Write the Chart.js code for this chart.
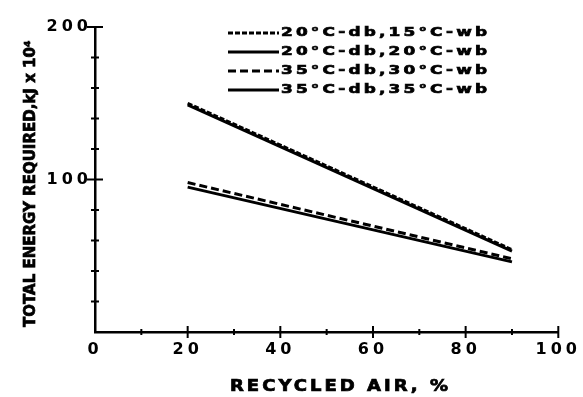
<!DOCTYPE html>
<html>
<head>
<meta charset="utf-8">
<script src="https://cdn.jsdelivr.net/npm/chart.js@4.4.0/dist/chart.umd.min.js"></script>
<style>
  html, body { margin: 0; padding: 0; background: #fff; }
  canvas { display: block; }
</style>
</head>
<body>
<canvas id="myChart" width="583" height="397"></canvas>
<script>
// x: recycled air in %, the lines run from 20 to 90
const recycledAir = [20, 90];
// y: total energy required, kJ x 10^4
const db20wb15 = [150, 54];
const db20wb20 = [149, 53];
const db35wb30 = [98, 48];
const db35wb35 = [95, 46];
const seriesLabels = ['20°C-db,15°C-wb', '20°C-db,20°C-wb', '35°C-db,30°C-wb', '35°C-db,35°C-wb'];
// only these ticks carry a number
const xTickLabels = [0, 20, 40, 60, 80, 100];
const yTickLabels = [100, 200];
const xTitle = 'RECYCLED AIR, %';
const yTitle = 'TOTAL ENERGY REQUIRED,kJ x 10⁴';

const FONT = 'DejaVu Sans';

function points(ys) {
    return recycledAir.map((x, i) => ({x: x, y: ys[i]}));
}

// the scan uses a very wide, heavy lettering: stretch a bit, spread the rest
function drawWide(ctx, text, x, y, width, stretch) {
    ctx.letterSpacing = '0px';
    let w = ctx.measureText(text).width * stretch;
    let sp = Math.max(0, (width - w) / (text.length - 1)) / stretch;
    ctx.letterSpacing = sp + 'px';
    ctx.save();
    ctx.translate(x, y);
    ctx.scale(stretch, 1);
    ctx.lineWidth = 0.7;
    ctx.setLineDash([]);
    ctx.fillText(text, 0, 0);
    ctx.strokeText(text, 0, 0);
    ctx.restore();
}

const paper = {
    id: 'paper',
    beforeDraw(chart) {
        const ctx = chart.ctx;
        ctx.save();
        ctx.fillStyle = '#fff';
        ctx.fillRect(0, 0, chart.width, chart.height);
        ctx.restore();
        // wide spacing for the tick labels
        ctx.letterSpacing = '4px';
    },
    afterDraw(chart) {
        const ctx = chart.ctx;
        const xs = chart.scales.x, ys = chart.scales.y;
        const ax = chart.chartArea.left, ay = chart.chartArea.bottom;

        ctx.save();
        ctx.strokeStyle = '#000';
        ctx.lineWidth = 2;
        ctx.setLineDash([]);
        // tick marks crossing the axes
        ys.ticks.forEach(t => {
            if (t.value === 0) return;
            const p = ys.getPixelForValue(t.value);
            const l = yTickLabels.includes(t.value) ? 8 : 4;
            ctx.beginPath();
            ctx.moveTo(ax - l, p);
            ctx.lineTo(ax + l, p);
            ctx.stroke();
        });
        xs.ticks.forEach(t => {
            if (t.value === 0) return;
            const p = xs.getPixelForValue(t.value);
            const l = xTickLabels.includes(t.value) ? 6 : 3;
            ctx.beginPath();
            ctx.moveTo(p, ay - l);
            ctx.lineTo(p, ay + l);
            ctx.stroke();
        });

        ctx.fillStyle = '#000';
        ctx.textBaseline = 'middle';
        ctx.textAlign = 'left';

        // x title
        ctx.font = 'bold 15px "' + FONT + '"';
        drawWide(ctx, xTitle, 230, 387, 218, 1.2);

        // y title
        ctx.font = 'bold 15px "' + FONT + '"';
        ctx.save();
        ctx.translate(31, 327);
        ctx.rotate(-Math.PI / 2);
        drawWide(ctx, yTitle, 0, 0, 277, 1);
        ctx.restore();

        // legend inside the plot
        ctx.font = 'bold 13px "' + FONT + '"';
        chart.data.datasets.forEach((ds, i) => {
            const y = 33 + i * 19;
            ctx.lineWidth = 3;
            ctx.setLineDash(ds.borderDash || []);
            ctx.beginPath();
            ctx.moveTo(228, y);
            ctx.lineTo(279, y);
            ctx.stroke();
            drawWide(ctx, ds.label, 281, y, 206, 1.3);
        });
        ctx.restore();
    }
};

const ctx = document.getElementById('myChart').getContext('2d');
const energyChart = new Chart(ctx, {
    type: 'line',
    data: {
        datasets: [
            {label: seriesLabels[0], data: points(db20wb15), borderDash: [5, 2]},
            {label: seriesLabels[1], data: points(db20wb20), borderDash: []},
            {label: seriesLabels[2], data: points(db35wb30), borderDash: [8, 4]},
            {label: seriesLabels[3], data: points(db35wb35), borderDash: []},
        ].map(d => Object.assign(d, {
            borderColor: '#000',
            borderWidth: 3,
            pointRadius: 0,
            fill: false,
            tension: 0,
        }))
    },
    options: {
        responsive: false,
        animation: false,
        devicePixelRatio: 1,
        layout: {padding: {left: 0, right: 21, top: 27, bottom: 0}},
        plugins: {
            legend: {display: false},
            tooltip: {enabled: false},
        },
        scales: {
            x: {
                type: 'linear',
                min: 0,
                max: 100,
                grid: {display: false, drawTicks: false},
                border: {display: true, color: '#000', width: 2.5},
                ticks: {
                    stepSize: 10,
                    padding: 8,
                    color: '#000',
                    font: {family: FONT, size: 16, weight: 'bold'},
                    maxRotation: 0,
                    autoSkip: false,
                    callback: v => xTickLabels.includes(v) ? v : '',
                },
                title: {display: false, text: xTitle},
                afterFit(s) { s.height = 65; },
            },
            y: {
                min: 0,
                max: 200,
                grid: {display: false, drawTicks: false},
                border: {display: true, color: '#000', width: 2.5},
                ticks: {
                    stepSize: 20,
                    padding: 3,
                    color: '#000',
                    font: {family: FONT, size: 16, weight: 'bold'},
                    autoSkip: false,
                    callback: v => yTickLabels.includes(v) ? v : '',
                },
                title: {display: false, text: yTitle},
                afterFit(s) { s.width = 95; },
            },
        },
    },
    plugins: [paper],
});
</script>
</body>
</html>
